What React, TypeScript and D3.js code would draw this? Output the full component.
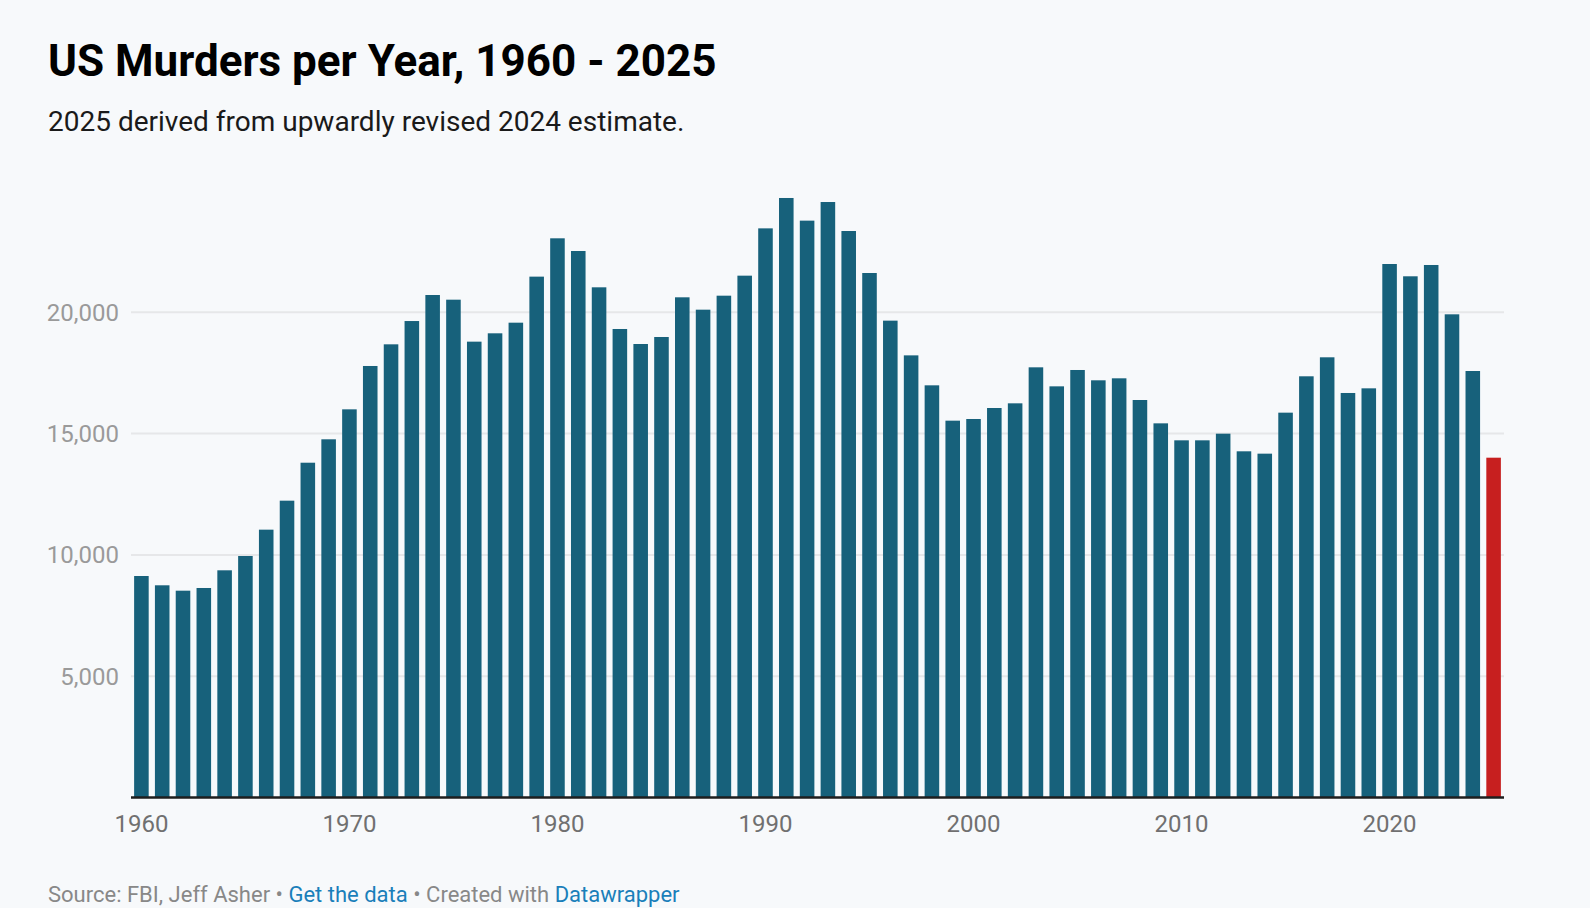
import React, { useRef, useEffect } from "react";
import * as d3 from "d3";

// murders per year, 1960 - 2025 (2025 is the estimate, drawn red)
const years = d3.range(1960, 2026);
const murders = [
  9130, 8747, 8525, 8636, 9365, 9955, 11040, 12235, 13800, 14765,
  16000, 17787, 18680, 19640, 20713, 20520, 18790, 19134, 19572, 21470,
  23050, 22527, 21030, 19312, 18693, 18982, 20618, 20108, 20685, 21510,
  23460, 24712, 23778, 24546, 23351, 21620, 19656, 18225, 16990, 15533,
  15602, 16055, 16248, 17732, 16948, 17622, 17197, 17279, 16385, 15423,
  14723, 14723, 14997, 14270, 14173, 15863, 17362, 18145, 16674, 16866,
  21991, 21484, 21950, 19917, 17580, 14007,
];
const highlightYear = 2025;
const yTicks = [5000, 10000, 15000, 20000];
const xTicks = [1960, 1970, 1980, 1990, 2000, 2010, 2020];

const title = "US Murders per Year, 1960 - 2025";
const subtitle = "2025 derived from upwardly revised 2024 estimate.";

const W = 1590;
const H = 908;
const margin = { top: 191, right: 86, bottom: 110.5, left: 131 };
const font = "Roboto, 'Noto Sans', sans-serif";

const App = () => {
  const canvas = useRef<HTMLDivElement>(null);

  const drawChart = () => {
    const root = d3.select(canvas.current);
    root.selectAll("*").remove();

    const svg = root
      .append("svg")
      .attr("width", W)
      .attr("height", H)
      .style("display", "block")
      .style("font-family", font);

    svg.append("rect").attr("width", W).attr("height", H).attr("fill", "#f7f9fb");

    const x = d3
      .scaleBand<number>()
      .domain(years)
      .range([margin.left, W - margin.right])
      .paddingInner(0.3)
      .paddingOuter(0.15);

    const y = d3
      .scaleLinear()
      .domain([0, 25000])
      .range([H - margin.bottom, margin.top]);

    // header
    svg.append("text")
      .attr("x", 48)
      .attr("y", 76)
      .attr("font-size", 44)
      .attr("font-weight", 700)
      .attr("fill", "#000")
      .text(title);

    svg.append("text")
      .attr("x", 48)
      .attr("y", 131)
      .attr("font-size", 28)
      .attr("fill", "#1a1a1a")
      .text(subtitle);

    // gridlines + y labels
    const grid = svg.append("g");
    grid.selectAll("line")
      .data(yTicks)
      .enter()
      .append("line")
      .attr("x1", margin.left)
      .attr("x2", W - margin.right)
      .attr("y1", (d) => y(d))
      .attr("y2", (d) => y(d))
      .attr("stroke", "#e6e7e9")
      .attr("stroke-width", 2);

    grid.selectAll("text")
      .data(yTicks)
      .enter()
      .append("text")
      .attr("x", 119)
      .attr("y", (d) => y(d))
      .attr("dy", "0.35em")
      .attr("text-anchor", "end")
      .attr("font-size", 24)
      .attr("fill", "#9a9a9a")
      .text((d) => d3.format(",")(d));

    // bars
    svg.append("g")
      .selectAll("rect")
      .data(years)
      .enter()
      .append("rect")
      .attr("x", (d) => x(d) as number)
      .attr("y", (d, i) => y(murders[i]))
      .attr("width", x.bandwidth())
      .attr("height", (d, i) => y(0) - y(murders[i]))
      .attr("fill", (d) => (d === highlightYear ? "#c71f1f" : "#17617b"));

    // baseline
    svg.append("line")
      .attr("x1", margin.left)
      .attr("x2", W - margin.right)
      .attr("y1", y(0))
      .attr("y2", y(0))
      .attr("stroke", "#1e1e1e")
      .attr("stroke-width", 2.4);

    // x labels
    svg.append("g")
      .selectAll("text")
      .data(xTicks)
      .enter()
      .append("text")
      .attr("x", (d) => (x(d) as number) + x.bandwidth() / 2)
      .attr("y", 832)
      .attr("text-anchor", "middle")
      .attr("font-size", 24)
      .attr("fill", "#707070")
      .text((d) => d);

    // footer
    const foot = svg.append("text")
      .attr("x", 48)
      .attr("y", 902)
      .attr("font-size", 22)
      .attr("fill", "#888");
    foot.append("tspan").text("Source: FBI, Jeff Asher • ");
    foot.append("tspan").attr("fill", "#1a7fba").text("Get the data");
    foot.append("tspan").text(" • Created with ");
    foot.append("tspan").attr("fill", "#1a7fba").text("Datawrapper");
  };

  useEffect(() => {
    document.body.style.margin = "0";
    document.body.style.background = "#f7f9fb";
    drawChart();
  });

  return <div ref={canvas}></div>;
};

export default App;
